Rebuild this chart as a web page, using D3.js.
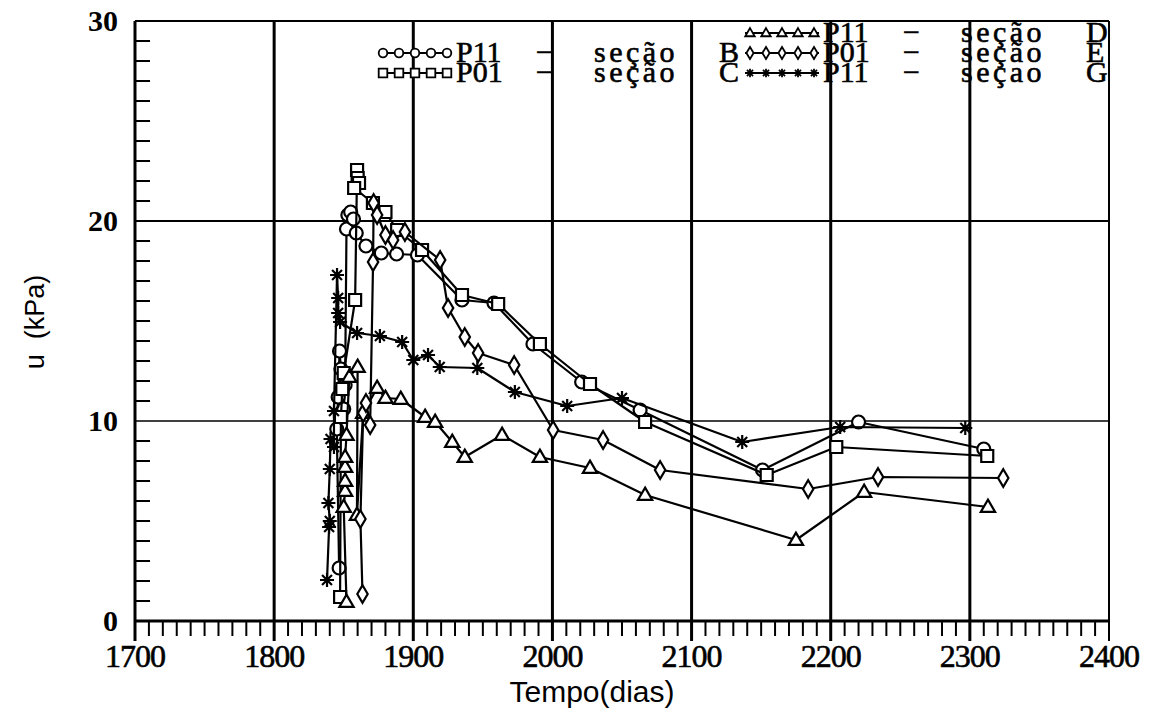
<!DOCTYPE html>
<html>
<head>
<meta charset="utf-8">
<script src="https://cdn.jsdelivr.net/npm/d3@7"></script>
<style>
  body { margin: 0; background: #fff; }
  svg { display: block; }
</style>
</head>
<body>
<svg id="chart" width="1159" height="719"></svg>
<script>
// Axis ticks
const xTickValues = [1700, 1800, 1900, 2000, 2100, 2200, 2300, 2400];
const yTickValues = [0, 10, 20, 30];

// Piezometer readings: [tempo (dias), u (kPa)]
const secaoB = [[1846.7,2.65],[1845,9.6],[1846,11.2],[1847,13.5],[1848,12.6],[1849,11.6],[1850,10.6],[1851,11.8],[1852,19.6],[1853,20.3],[1855,20.45],[1857,20.1],[1859,19.4],[1866,18.75],[1877,18.4],[1888,18.35],[1903,18.3],[1935,16.05],[1958,15.9],[1986,13.85],[2021,11.95],[2063,10.55],[2151,7.55],[2220,9.95],[2310,8.6]];
const secaoC = [[1847.4,1.2],[1848,10.2],[1849,11.6],[1850,12.4],[1858.2,16.05],[1859.6,22.55],[1860,22.15],[1861,21.9],[1857.5,21.65],[1871,20.9],[1880,20.45],[1888.4,19.55],[1906.3,18.55],[1935,16.3],[1961,15.85],[1991,13.85],[2027,11.85],[2066.6,9.95],[2154,7.3],[2204,8.7],[2312.5,8.25]];
const secaoD = [[1852,0.95],[1850,5.7],[1851,6.5],[1851,7.0],[1851,7.7],[1851,8.2],[1852,9.3],[1854,12.2],[1860,12.7],[1859.5,5.3],[1864,10.4],[1874,11.65],[1880,11.15],[1891,11.1],[1908.5,10.2],[1915.7,9.95],[1928,8.95],[1937,8.2],[1963.8,9.3],[1991,8.2],[2027,7.65],[2066.6,6.3],[2175,4.05],[2224,6.45],[2313,5.7]];
const secaoE = [[1863.5,1.35],[1862,5.1],[1864,10.4],[1866,10.9],[1869,9.8],[1871.1,17.95],[1871.5,20.9],[1874,20.3],[1880,19.3],[1885.5,19.05],[1894,19.45],[1919.3,18.05],[1925,15.65],[1937,14.2],[1946.6,13.4],[1972.5,12.8],[2000.5,9.55],[2036.4,9.05],[2077.4,7.55],[2183.8,6.6],[2234,7.2],[2324,7.15]];
const secaoG = [[1838,2.05],[1839.5,4.7],[1840,5.0],[1839,5.9],[1840,7.6],[1840.5,9.1],[1843,8.7],[1843,10.5],[1845.2,17.3],[1846,16.15],[1846,15.4],[1847.4,14.95],[1859.6,14.4],[1876,14.25],[1892,13.95],[1900,13.05],[1910.6,13.3],[1919,12.7],[1946,12.65],[1973,11.45],[2010.6,10.75],[2050,11.15],[2136.4,8.95],[2206.8,9.7],[2296.7,9.65]];

// Legend labels, split into the spaced-out words of each entry
const legendB = ["P11", "−", "seção", "B"];
const legendC = ["P01", "−", "seção", "C"];
const legendD = ["P11", "−", "seção", "D"];
const legendE = ["P01", "−", "seção", "E"];
const legendG = ["P11", "−", "seçao", "G"];

const svg = d3.select("#chart");
const x = d3.scaleLinear().domain([1700, 2400]).range([135, 1109]);
const y = d3.scaleLinear().domain([0, 30]).range([621, 21]);

// ---- marker shapes ----
function markerPath(kind, s) {
  const p = d3.path();
  if (kind === "circle") {
    p.moveTo(s, 0); p.arc(0, 0, s, 0, 2 * Math.PI);
  } else if (kind === "square") {
    p.rect(-s, -s, 2 * s, 2 * s);
  } else if (kind === "triangle") {
    const h = s * 1.9;
    p.moveTo(0, -h * 0.6); p.lineTo(s * 1.1, h * 0.4); p.lineTo(-s * 1.1, h * 0.4); p.closePath();
  } else if (kind === "diamond") {
    p.moveTo(0, -s * 1.35); p.lineTo(s * 0.8, 0); p.lineTo(0, s * 1.35); p.lineTo(-s * 0.8, 0); p.closePath();
  } else if (kind === "star") {
    for (let i = 0; i < 4; i++) {
      const a = i * Math.PI / 4;
      p.moveTo(Math.cos(a) * s, Math.sin(a) * s);
      p.lineTo(-Math.cos(a) * s, -Math.sin(a) * s);
    }
  }
  return p.toString();
}

// ---- grid, frame, ticks ----
const g = svg.append("g");

// horizontal grid lines at labelled values
g.selectAll("line.hgrid").data(yTickValues.filter(v => v > 0 && v < 30)).join("line")
  .attr("x1", x(1700)).attr("x2", x(2400))
  .attr("y1", d => y(d)).attr("y2", d => y(d))
  .attr("stroke", "#000").attr("stroke-width", d => d === 20 ? 2.2 : 1.6);

// vertical grid lines, running past the axis as long ticks
g.selectAll("line.vgrid").data(xTickValues.filter(v => v > 1700 && v < 2400)).join("line")
  .attr("x1", d => x(d)).attr("x2", d => x(d))
  .attr("y1", y(30)).attr("y2", y(0) + 20)
  .attr("stroke", "#000").attr("stroke-width", 3);

// frame
g.append("line").attr("x1", x(1700)).attr("x2", x(2400)).attr("y1", y(30)).attr("y2", y(30))
  .attr("stroke", "#000").attr("stroke-width", 2);
g.append("line").attr("x1", x(2400)).attr("x2", x(2400)).attr("y1", y(30)).attr("y2", y(0) + 20)
  .attr("stroke", "#000").attr("stroke-width", 2);
g.append("line").attr("x1", x(1700)).attr("x2", x(1700)).attr("y1", y(30)).attr("y2", y(0) + 20)
  .attr("stroke", "#000").attr("stroke-width", 3);
g.append("line").attr("x1", x(1700)).attr("x2", x(2400)).attr("y1", y(0)).attr("y2", y(0))
  .attr("stroke", "#000").attr("stroke-width", 3);

// minor ticks: every 10 days below the x axis, every 1 kPa inside the y axis
g.selectAll("line.xminor").data(d3.range(1710, 2400, 10).filter(v => v % 100 !== 0)).join("line")
  .attr("x1", d => x(d)).attr("x2", d => x(d))
  .attr("y1", y(0)).attr("y2", y(0) + 15)
  .attr("stroke", "#000").attr("stroke-width", 2);
g.selectAll("line.yminor").data(d3.range(1, 30).filter(v => v % 10 !== 0)).join("line")
  .attr("x1", x(1700)).attr("x2", x(1700) + 15)
  .attr("y1", d => y(d)).attr("y2", d => y(d))
  .attr("stroke", "#000").attr("stroke-width", 2);

// tick labels
g.selectAll("text.xlab").data(xTickValues).join("text")
  .attr("x", d => x(d)).attr("y", y(0) + 46)
  .attr("text-anchor", "middle")
  .attr("font-family", "Liberation Serif, serif").attr("font-size", 32)
  .attr("letter-spacing", -1)
  .attr("stroke", "#000").attr("stroke-width", 0.6)
  .text(d => d);
g.selectAll("text.ylab").data(yTickValues).join("text")
  .attr("x", x(1700) - 17).attr("y", d => y(d) + 10)
  .attr("text-anchor", "end")
  .attr("font-family", "Liberation Serif, serif").attr("font-size", 30).attr("font-weight", "bold")
  .text(d => d);

// axis titles
svg.append("text")
  .attr("x", 592).attr("y", 702)
  .attr("text-anchor", "middle")
  .attr("font-family", "Liberation Sans, Arial, sans-serif").attr("font-size", 30)
  .text("Tempo(dias)");
svg.append("text")
  .attr("transform", "translate(44,322) rotate(-90)")
  .attr("text-anchor", "middle")
  .attr("font-family", "Liberation Sans, Arial, sans-serif").attr("font-size", 27)
  .style("white-space", "pre")
  .text("u  (kPa)");

// ---- data series ----
const series = [
  { data: secaoB, kind: "circle", size: 6.5 },
  { data: secaoC, kind: "square", size: 6 },
  { data: secaoD, kind: "triangle", size: 6.5 },
  { data: secaoE, kind: "diamond", size: 6.5 },
  { data: secaoG, kind: "star", size: 7 }
];
const line = d3.line().x(d => x(d[0])).y(d => y(d[1]));

series.forEach(s => {
  const sg = svg.append("g");
  sg.append("path").attr("d", line(s.data))
    .attr("fill", "none").attr("stroke", "#000").attr("stroke-width", 2.2)
    .attr("stroke-linejoin", "round");
  sg.selectAll("path.m").data(s.data).join("path")
    .attr("transform", d => `translate(${x(d[0])},${y(d[1])})`)
    .attr("d", markerPath(s.kind, s.size))
    .attr("fill", s.kind === "star" ? "none" : "#fff")
    .attr("stroke", "#000").attr("stroke-width", 2.2);
});

// ---- legend ----
const legendRows = [
  { parts: legendD, kind: "triangle", x0: 745, cy: 33 },
  { parts: legendB, kind: "circle", x0: 378, cy: 53 },
  { parts: legendE, kind: "diamond", x0: 745, cy: 53 },
  { parts: legendC, kind: "square", x0: 378, cy: 73 },
  { parts: legendG, kind: "star", x0: 745, cy: 73 }
];
const partOffsets = [0, 80, 138, 263];
const partSpacing = [0, 0, 3.5, 0];
const lg = svg.append("g");
legendRows.forEach(r => {
  const row = lg.append("g");
  const sampleX = d3.range(5).map(i => r.x0 + 5 + i * 16);
  row.append("line")
    .attr("x1", r.x0).attr("x2", r.x0 + 74)
    .attr("y1", r.cy).attr("y2", r.cy)
    .attr("stroke", "#000").attr("stroke-width", 2);
  row.selectAll("path").data(sampleX).join("path")
    .attr("transform", d => `translate(${d},${r.cy})`)
    .attr("d", markerPath(r.kind, r.kind === "diamond" ? 4.5 : 4.3))
    .attr("fill", r.kind === "star" ? "none" : "#fff")
    .attr("stroke", "#000").attr("stroke-width", 1.8);
  const label = row.append("text")
    .attr("y", r.cy + 9)
    .attr("font-family", "Liberation Serif, serif").attr("font-size", 30)
    .attr("stroke", "#000").attr("stroke-width", 0.6);
  label.selectAll("tspan").data(r.parts).join("tspan")
    .attr("x", (d, i) => r.x0 + 78 + partOffsets[i])
    .attr("letter-spacing", (d, i) => partSpacing[i])
    .text(d => d);
});
</script>
</body>
</html>
